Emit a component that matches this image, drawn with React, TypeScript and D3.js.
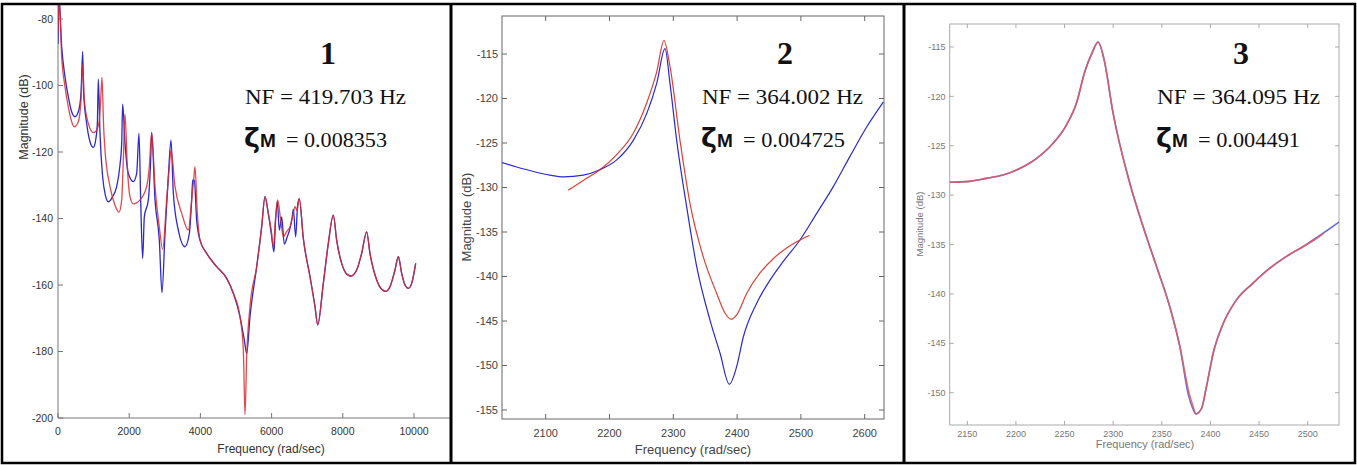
import React from 'react';
import * as d3 from 'd3';

type Pt = [number, number];

// ---------- Panel 1 data (frequency rad/sec, magnitude dB) ----------
const blue1: Pt[] = [
  [0, -87.5], [30, -74], [103, -88.3], [197, -97.4], [290, -103.4], [384, -107.9], [478, -109.4],
  [571, -107.9], [646, -102.4], [693, -89.8], [721, -102.4], [805, -111.4], [899, -116.9],
  [993, -118.6], [1058, -116.4], [1105, -111.4], [1133, -98.1], [1180, -114.4], [1250, -127],
  [1330, -133], [1414, -135], [1530, -133.5], [1648, -130.4], [1740, -124], [1789, -117.4],
  [1817, -105.6], [1882, -117.4], [1975, -126.4], [2116, -128.9], [2210, -126.4], [2275, -114.4],
  [2322, -134.4], [2378, -152], [2425, -139.5], [2537, -134.4], [2603, -122.4], [2631, -114.2],
  [2725, -134.4], [2846, -146.5], [2921, -162.3], [3006, -144.5], [3099, -127.4], [3174, -116.4],
  [3240, -132.4], [3380, -143.5], [3567, -148.5], [3689, -144.5], [3755, -134.4], [3783, -128.4],
  [3830, -128.6], [3895, -140.5], [3989, -146.5], [4176, -150.5], [4457, -154.5], [4738, -158],
  [4925, -162.5], [5112, -169.5], [5234, -176.6], [5300, -180.6], [5393, -169.5], [5581, -154.5],
  [5721, -142.5], [5815, -133.4], [5900, -138], [5990, -144.5], [6067, -150], [6110, -141],
  [6161, -134.9], [6217, -143.5], [6283, -139.5], [6357, -147.7], [6440, -145.5], [6517, -143],
  [6580, -139.5], [6610, -137.2], [6676, -145.5], [6733, -135.7], [6779, -134.2], [6891, -146],
  [7079, -157.5], [7219, -166.5], [7295, -172], [7453, -159.5], [7593, -147.5], [7734, -139],
  [7827, -146.5], [7968, -153.5], [8109, -156.7], [8230, -157.3], [8390, -155.5], [8530, -150.5],
  [8670, -144], [8764, -150.5], [8952, -158.5], [9092, -161.3], [9204, -161.9], [9326, -160.5],
  [9466, -155.5], [9560, -151.5], [9654, -156.5], [9747, -160], [9841, -161], [9935, -159.5],
  [10047, -153.5],
];

const red1: Pt[] = [
  [0, -84], [35, -74], [103, -91.3], [197, -100.4], [290, -106.4], [384, -110.9], [459, -112.4],
  [571, -110.9], [646, -104.4], [693, -93.8], [740, -104.4], [852, -111.4], [993, -114.2],
  [1086, -113.4], [1161, -110.4], [1199, -104.4], [1236, -97.5], [1280, -112], [1320, -119.4],
  [1461, -130.4], [1601, -136], [1713, -138.1], [1789, -134.4], [1835, -122.4], [1882, -108.6],
  [1947, -124.4], [2022, -133.4], [2116, -135.6], [2303, -134.4], [2490, -130.4], [2565, -124.4],
  [2631, -114.1], [2725, -130.4], [2846, -142.5], [2940, -149.3], [3052, -134.4], [3127, -124.4],
  [3174, -119.4], [3287, -130.4], [3474, -138.4], [3661, -143.5], [3755, -134.4], [3811, -128.5],
  [3848, -124.4], [3914, -138.4], [3989, -146.5], [4176, -150.5], [4457, -154.5], [4738, -158],
  [4925, -162.5], [5112, -169.5], [5206, -179.6], [5253, -199], [5300, -181.6], [5393, -166.5],
  [5581, -154.5], [5721, -142.5], [5815, -133.4], [5900, -138], [5990, -143.5], [6049, -148.6],
  [6110, -140], [6170, -134.4], [6250, -140], [6330, -145.5], [6420, -144], [6517, -142.5],
  [6600, -139], [6657, -136.4], [6714, -137.6], [6779, -133.9], [6891, -146], [7079, -157.5],
  [7219, -166.5], [7295, -172], [7453, -159.5], [7593, -147.5], [7734, -139], [7827, -146.5],
  [7968, -153.5], [8109, -156.7], [8230, -157.3], [8390, -155.5], [8530, -150.5], [8670, -144],
  [8764, -150.5], [8952, -158.5], [9092, -161.3], [9204, -161.9], [9326, -160.5], [9466, -155.5],
  [9560, -151.5], [9654, -156.5], [9747, -160], [9841, -161], [9935, -159.5], [10047, -153.5],
];

// ---------- Panel 2 data ----------
const blue2: Pt[] = [
  [2031, -127.2], [2054.5, -127.7], [2080.6, -128.2], [2106.7, -128.6], [2127.6, -128.8],
  [2158.9, -128.6], [2185, -128.0], [2211.3, -126.9], [2237.3, -124.7], [2258.3, -121.7],
  [2274, -118.3], [2287, -114.4], [2294.8, -118.3], [2305.3, -124.7], [2321, -132.2],
  [2336.7, -138.9], [2357.5, -144.9], [2373.2, -148.6], [2387.8, -152.1], [2399.4, -150.1],
  [2409.7, -146.8], [2430.7, -143], [2451.6, -140.4], [2472.4, -138.3], [2498.6, -135.9],
  [2524.8, -132.9], [2550.8, -129.9], [2576.9, -126.5], [2603.1, -123.2], [2629.1, -120.4],
];

const red2: Pt[] = [
  [2135.4, -130.3], [2158.9, -129.2], [2185, -128.0], [2211.3, -126.3], [2237.3, -123.9],
  [2258.3, -120.5], [2274, -117], [2285.4, -113.5], [2294.8, -116.4], [2310.5, -124.7],
  [2326.2, -131.8], [2347, -137.8], [2368, -141.9], [2381, -144.1], [2390.4, -144.8],
  [2399.4, -144.3], [2415, -141.9], [2435.9, -139.6], [2456.7, -138], [2477.6, -136.8],
  [2493.4, -136.1], [2513.2, -135.4],
];

// ---------- Panel 3 data ----------
const blue3: Pt[] = [
  [2131.9, -128.7], [2152.5, -128.6], [2169.6, -128.3], [2186.7, -127.96], [2203.9, -127.3],
  [2221, -126.3], [2238.2, -124.75], [2251.9, -122.9], [2262.2, -120.7], [2270.8, -117.5],
  [2278.3, -115.6], [2284.5, -114.5], [2290.7, -116.3], [2299.9, -121.7], [2317.1, -128.8],
  [2330.8, -133.2], [2344.5, -137.2], [2358.2, -141.3], [2368.5, -145.3], [2377.5, -150.3],
  [2381.8, -151.6], [2385, -152.15], [2390.8, -151.6], [2395.9, -149.4], [2402.8, -146],
  [2413.1, -143], [2426.8, -140.6], [2443.9, -138.9], [2461.1, -137.4], [2478.2, -136.2],
  [2495.4, -135.2], [2509.1, -134.3], [2519.5, -133.6], [2532.5, -132.7],
];

const red3: Pt[] = [
  [2131.9, -128.7], [2152.5, -128.6], [2169.6, -128.3], [2186.7, -127.96], [2203.9, -127.3],
  [2221, -126.3], [2238.2, -124.75], [2251.9, -122.9], [2262.2, -120.7], [2270.8, -117.5],
  [2278.3, -115.6], [2284.5, -114.5], [2290.7, -116.3], [2299.9, -121.7], [2317.1, -128.8],
  [2330.8, -133.2], [2344.5, -137.2], [2358.2, -141.3], [2368.5, -145.3], [2378.1, -150.05],
  [2382.2, -151.4], [2385, -152.15], [2390.8, -151.6], [2395.9, -149.4], [2402.8, -146],
  [2413.1, -143], [2426.8, -140.6], [2443.9, -138.9], [2461.1, -137.4], [2478.2, -136.2],
  [2495.4, -135.2], [2509.1, -134.4], [2516, -133.9],
];

// ---------- Ticks & annotations ----------
const xTicks1 = [0, 2000, 4000, 6000, 8000, 10000];
const yTicks1 = [-200, -180, -160, -140, -120, -100, -80];
const xTicks2 = [2100, 2200, 2300, 2400, 2500, 2600];
const yTicks2 = [-155, -150, -145, -140, -135, -130, -125, -120, -115];
const xTicks3 = [2150, 2200, 2250, 2300, 2350, 2400, 2450, 2500];
const yTicks3 = [-150, -145, -140, -135, -130, -125, -120, -115];

const panelLabels = ['1', '2', '3'];
const nfTexts = ['NF = 419.703 Hz', 'NF = 364.002 Hz', 'NF = 364.095 Hz'];
const zetaValues = ['0.008353', '0.004725', '0.004491'];
const xTitle = 'Frequency (rad/sec)';
const yTitle = 'Magnitude (dB)';

const SANS = '"Liberation Sans", Arial, sans-serif';
const SERIF = '"Liberation Serif", "Times New Roman", serif';

interface PanelProps {
  id: string;
  x: d3.ScaleLinear<number, number>;
  y: d3.ScaleLinear<number, number>;
  box: { l: number; t: number; r: number; b: number };
  fullBox: boolean;
  xTicks: number[];
  yTicks: number[];
  series: { data: Pt[]; color: string; width: number; opacity: number }[];
  axisColor: string;
  labelColor: string;
  tickFont: number;
  titleFont: number;
  yTitleFont: number;
  tickLen: number;
  xLabelY: number;
  yLabelX: number;
  xTitlePos: [number, number];
  yTitlePos: [number, number];
}

function Panel(p: PanelProps) {
  const line = d3
    .line<Pt>()
    .x((d) => p.x(d[0]))
    .y((d) => p.y(d[1]))
    .curve(d3.curveMonotoneX);
  const { l, t, r, b } = p.box;
  return (
    <g>
      <defs>
        <clipPath id={p.id}>
          <rect x={l} y={t} width={r - l} height={b - t} />
        </clipPath>
      </defs>
      {p.fullBox ? (
        <rect x={l} y={t} width={r - l} height={b - t} fill="none" stroke={p.axisColor} strokeWidth={1} />
      ) : (
        <g stroke={p.axisColor} strokeWidth={1}>
          <line x1={l} y1={t} x2={l} y2={b} />
          <line x1={l} y1={b} x2={r} y2={b} />
        </g>
      )}
      {p.xTicks.map((v) => (
        <g key={'xt' + v}>
          <line x1={p.x(v)} x2={p.x(v)} y1={b} y2={b - p.tickLen} stroke={p.axisColor} />
          {p.fullBox && <line x1={p.x(v)} x2={p.x(v)} y1={t} y2={t + p.tickLen} stroke={p.axisColor} />}
          <text x={p.x(v)} y={p.xLabelY} textAnchor="middle" fontFamily={SANS} fontSize={p.tickFont} fill={p.labelColor}>
            {String(v)}
          </text>
        </g>
      ))}
      {p.yTicks.map((v) => (
        <g key={'yt' + v}>
          <line x1={l} x2={l + p.tickLen} y1={p.y(v)} y2={p.y(v)} stroke={p.axisColor} />
          {p.fullBox && <line x1={r} x2={r - p.tickLen} y1={p.y(v)} y2={p.y(v)} stroke={p.axisColor} />}
          <text x={p.yLabelX} y={p.y(v)} dy="0.35em" textAnchor="end" fontFamily={SANS} fontSize={p.tickFont} fill={p.labelColor}>
            {String(v)}
          </text>
        </g>
      ))}
      <text x={p.xTitlePos[0]} y={p.xTitlePos[1]} textAnchor="middle" fontFamily={SANS} fontSize={p.titleFont} fill={p.labelColor}>
        {xTitle}
      </text>
      <text
        transform={`translate(${p.yTitlePos[0]},${p.yTitlePos[1]}) rotate(-90)`}
        textAnchor="middle"
        dominantBaseline="central"
        fontFamily={SANS}
        fontSize={p.yTitleFont}
        fill={p.labelColor}
      >
        {yTitle}
      </text>
      <g clipPath={`url(#${p.id})`}>
        {p.series.map((s, i) => (
          <path key={i} d={line(s.data) || ''} fill="none" stroke={s.color} strokeWidth={s.width} strokeOpacity={s.opacity} strokeLinejoin="round" />
        ))}
      </g>
    </g>
  );
}

function Annotation({ cx, x0, label, nf, zeta, nfEnd, zEnd }: { cx: number; x0: number; label: string; nf: string; zeta: string; nfEnd: number; zEnd: number }) {
  return (
    <g fill="#111">
      <text x={cx} y={64} textAnchor="middle" fontFamily={SERIF} fontWeight="bold" fontSize={32}>
        {label}
      </text>
      <text x={x0} y={104} fontFamily={SERIF} fontSize={22} textLength={nfEnd - x0} lengthAdjust="spacingAndGlyphs">
        {nf}
      </text>
      <text x={x0 - 1} y={147} fontFamily='"DejaVu Sans", sans-serif' fontWeight="bold" fontSize={27}>
        ζ
      </text>
      <text x={x0 + 15} y={147} fontFamily={SANS} fontWeight="bold" fontSize={19}>
        M
      </text>
      <text x={x0 + 41} y={147} fontFamily={SERIF} fontSize={22} textLength={zEnd - x0 - 41} lengthAdjust="spacingAndGlyphs">
        {'= ' + zeta}
      </text>
    </g>
  );
}

export default function App() {
  const x1 = d3.scaleLinear().domain([0, 10000]).range([58, 414]);
  const y1 = d3.scaleLinear().domain([-200, -80]).range([418, 19]);
  const x2 = d3.scaleLinear().domain([2100, 2600]).range([545.7, 864.7]);
  const y2 = d3.scaleLinear().domain([-155, -115]).range([410, 54]);
  const x3 = d3.scaleLinear().domain([2150, 2500]).range([967.3, 1307.7]);
  const y3 = d3.scaleLinear().domain([-150, -115]).range([392.7, 47]);

  return (
    <svg
      width={1357}
      height={465}
      style={{ position: 'absolute', left: 0, top: 0, background: '#fff' }}
      xmlns="http://www.w3.org/2000/svg"
    >
      <rect x={0} y={0} width={1357} height={465} fill="#fff" />
      <Panel
        id="clip1"
        x={x1}
        y={y1}
        box={{ l: 58, t: 4, r: 450, b: 418 }}
        fullBox={false}
        xTicks={xTicks1}
        yTicks={yTicks1}
        series={[
          { data: blue1, color: '#2a2ad0', width: 1.3, opacity: 1 },
          { data: red1, color: '#dc2a2a', width: 1.3, opacity: 0.85 },
        ]}
        axisColor="#777"
        labelColor="#333"
        tickFont={10.5}
        titleFont={12}
        yTitleFont={12.5}
        tickLen={5}
        xLabelY={435}
        yLabelX={53}
        xTitlePos={[271, 453]}
        yTitlePos={[24, 117]}
      />
      <Panel
        id="clip2"
        x={x2}
        y={y2}
        box={{ l: 502, t: 16, r: 884, b: 419 }}
        fullBox={true}
        xTicks={xTicks2}
        yTicks={yTicks2}
        series={[
          { data: blue2, color: '#2a2ad0', width: 1.2, opacity: 1 },
          { data: red2, color: '#dc2a1e', width: 1.2, opacity: 0.9 },
        ]}
        axisColor="#666"
        labelColor="#444"
        tickFont={11}
        titleFont={13}
        yTitleFont={13}
        tickLen={5}
        xLabelY={437}
        yLabelX={498}
        xTitlePos={[693, 454]}
        yTitlePos={[466, 217]}
      />
      <Panel
        id="clip3"
        x={x3}
        y={y3}
        box={{ l: 949.7, t: 24, r: 1339, b: 425 }}
        fullBox={true}
        xTicks={xTicks3}
        yTicks={yTicks3}
        series={[
          { data: blue3, color: '#4a4ad0', width: 1.6, opacity: 0.8 },
          { data: red3, color: '#e05a5a', width: 1.6, opacity: 0.85 },
        ]}
        axisColor="#aaa"
        labelColor="#777"
        tickFont={9}
        titleFont={11}
        yTitleFont={9.5}
        tickLen={4}
        xLabelY={437}
        yLabelX={945.5}
        xTitlePos={[1145, 448]}
        yTitlePos={[919, 224]}
      />
      <Annotation cx={328} x0={245} label={panelLabels[0]} nf={nfTexts[0]} zeta={zetaValues[0]} nfEnd={406} zEnd={387} />
      <Annotation cx={785} x0={702} label={panelLabels[1]} nf={nfTexts[1]} zeta={zetaValues[1]} nfEnd={863} zEnd={845} />
      <Annotation cx={1241} x0={1157} label={panelLabels[2]} nf={nfTexts[2]} zeta={zetaValues[2]} nfEnd={1320} zEnd={1300} />
      <g stroke="#000" fill="none">
        <rect x={2} y={4} width={1353} height={459} strokeWidth={2.5} />
        <line x1={451} x2={451} y1={4} y2={463} strokeWidth={3} />
        <line x1={904} x2={904} y1={4} y2={463} strokeWidth={3} />
      </g>
    </svg>
  );
}
